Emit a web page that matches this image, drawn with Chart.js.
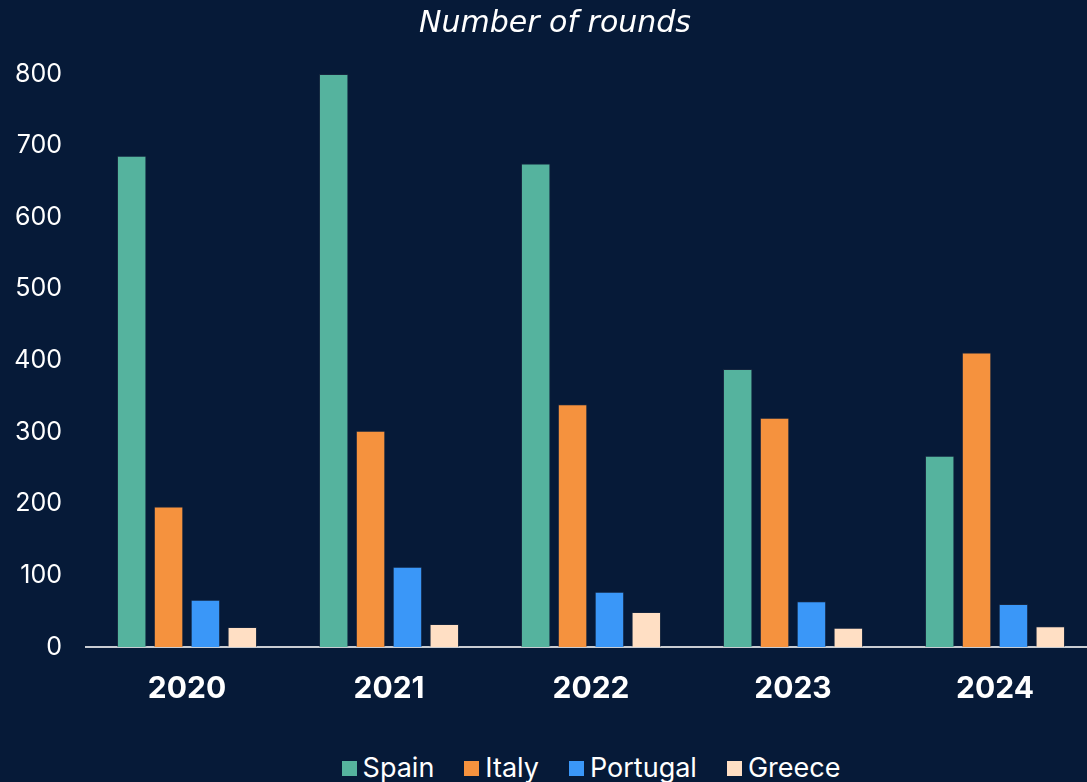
<!DOCTYPE html>
<html>
<head>
<meta charset="utf-8">
<script src="https://cdn.jsdelivr.net/npm/chart.js@4"></script>
<style>
  html, body { margin: 0; padding: 0; background: #061a38; overflow: hidden; }
  body { width: 1087px; height: 782px; position: relative; }
  #wrap { position: absolute; left: 0; top: 0; width: 1096px; height: 731px; }
  #legend { position: absolute; left: 86px; width: 1010px; top: 754px; height: 28px;
            display: flex; justify-content: center; align-items: center;
            font-family: Inter, sans-serif; font-size: 27px; color: #ffffff; line-height: 28px; }
  .item { display: flex; align-items: center; margin: 0 15px; white-space: nowrap; }
  .box { width: 15px; height: 15px; margin-right: 6px; }
</style>
</head>
<body>
<div id="wrap"><canvas id="canvas_plot1"></canvas></div>
<div id="legend"></div>
<script>
const years = ['2020', '2021', '2022', '2023', '2024']
const spain = [686, 800, 675, 388, 267]
const italy = [196, 302, 339, 320, 411]
const portugal = [66, 112, 77, 64, 60]
const greece = [28, 32, 49, 27, 29]
const y_ticks = [0, 100, 200, 300, 400, 500, 600, 700, 800]

function makeSet(label, arr, color) {
    return {
        label: label,
        data: arr,
        backgroundColor: color,
        borderColor: 'rgba(40, 50, 70, 0.45)',
        borderWidth: 1,
        barPercentage: 0.8,
        categoryPercentage: 0.73
    }
}

var data_rounds = {
    labels: years,
    datasets: [
        makeSet('Spain', spain, '#55b39e'),
        makeSet('Italy', italy, '#f5923e'),
        makeSet('Portugal', portugal, '#3a97f8'),
        makeSet('Greece', greece, '#ffdfc4')
    ]
};

var config = {
    type: 'bar',
    data: data_rounds,
    options: {
        responsive: true,
        maintainAspectRatio: false,
        animation: false,
        layout: { padding: { top: 0, left: 14, right: 0, bottom: 0 } },
        plugins: {
            title: {
                display: true,
                text: 'Number of rounds',
                color: '#ffffff',
                font: { family: 'DejaVu Sans', size: 30, style: 'italic', weight: 'normal' },
                padding: { top: 6, bottom: 32 }
            },
            legend: { display: false },
            tooltip: { enabled: false }
        },
        scales: {
            x: {
                grid: { display: false, drawTicks: false },
                border: { display: true, color: '#c8ccd2', width: 2 },
                ticks: {
                    color: '#ffffff',
                    font: { family: 'Inter', size: 30, weight: 'bold' },
                    padding: 24
                }
            },
            y: {
                min: 0,
                max: 800,
                afterBuildTicks: function (axis) {
                    axis.ticks = y_ticks.map(function (v) { return { value: v } })
                },
                afterFit: function (axis) { axis.width = 72 },
                grid: { display: false, drawTicks: false },
                border: { display: false },
                ticks: {
                    color: '#ffffff',
                    font: { family: 'Inter', size: 25 },
                    padding: 24
                }
            }
        }
    }
};

const barchar = new Chart(document.getElementById('canvas_plot1'), config)

// legend drawn as html from the chart datasets
var legendDiv = document.getElementById('legend')
barchar.data.datasets.forEach(function (ds) {
    var item = document.createElement('span')
    item.className = 'item'
    var box = document.createElement('span')
    box.className = 'box'
    box.style.background = ds.backgroundColor
    item.appendChild(box)
    item.appendChild(document.createTextNode(ds.label))
    legendDiv.appendChild(item)
})
</script>
</body>
</html>
